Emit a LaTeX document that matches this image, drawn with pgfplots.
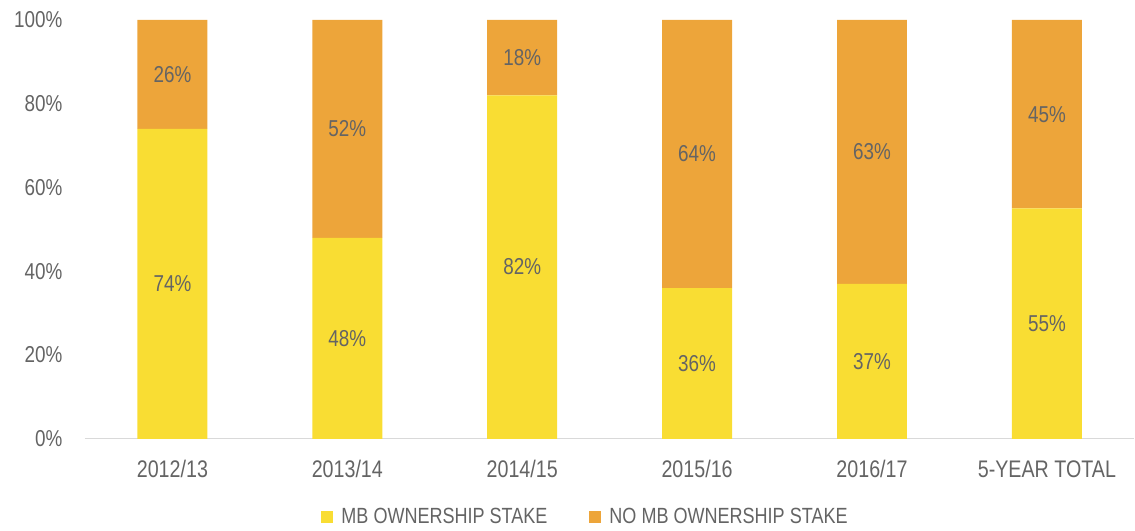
\documentclass[border=0pt]{standalone}
\usepackage{pgfplots}
\pgfplotsset{compat=1.18}
\usepackage{fontspec}
\setmainfont{Liberation Sans}[FakeStretch=0.82]
\definecolor{cyel}{RGB}{249,221,51}
\definecolor{corg}{RGB}{237,165,58}
\definecolor{tgray}{RGB}{100,100,100}
\definecolor{agray}{RGB}{217,217,217}
\begin{document}
\begin{tikzpicture}
\begin{axis}[
  at={(0pt,0pt)}, anchor=south west,
  scale only axis, width=1050pt, height=419pt,
  ybar stacked, bar width=70pt,
  xmin=-0.5, xmax=5.5, ymin=0, ymax=100,
  xtick={0,1,2,3,4,5},
  xticklabels={2012/13,2013/14,2014/15,2015/16,2016/17,5-YEAR TOTAL},
  ytick={0,20,40,60,80,100},
  yticklabel={\pgfmathprintnumber{\tick}\%},
  /pgf/number format/assume math mode=true,
  major tick length=0pt,
  axis lines*=left,
  y axis line style={draw=none},
  x axis line style={draw=agray, line width=1.3pt},
  tick label style={font=\fontsize{23}{27}\selectfont, text=tgray},
  yticklabel style={xshift=-19pt},
  xticklabel style={yshift=-18pt, font=\fontsize{24}{28}\selectfont},
  nodes near coords={\pgfmathprintnumber{\rawy}\%},
  visualization depends on=rawy \as \rawy,
  every node near coord/.append style={anchor=center, font=\fontsize{23}{27}\selectfont, text=tgray},
  legend style={at={(0.477,-0.186)}, anchor=center, draw=none, legend columns=2,
    font=\fontsize{22}{26}\selectfont, text=tgray,
    /tikz/every odd column/.append style={column sep=6pt},
    /tikz/every even column/.append style={column sep=40pt}},
  legend image code/.code={\fill[#1] (0pt,-6pt) rectangle (12pt,6pt);},
]
\addplot[fill=cyel, draw=none] coordinates {(0,74) (1,48) (2,82) (3,36) (4,37) (5,55)};
\addplot[fill=corg, draw=none] coordinates {(0,26) (1,52) (2,18) (3,64) (4,63) (5,45)};
\legend{MB OWNERSHIP STAKE, NO MB OWNERSHIP STAKE}
\end{axis}
\path[use as bounding box] (-85pt,-92pt) rectangle (1050pt,439pt);
\end{tikzpicture}
\end{document}
